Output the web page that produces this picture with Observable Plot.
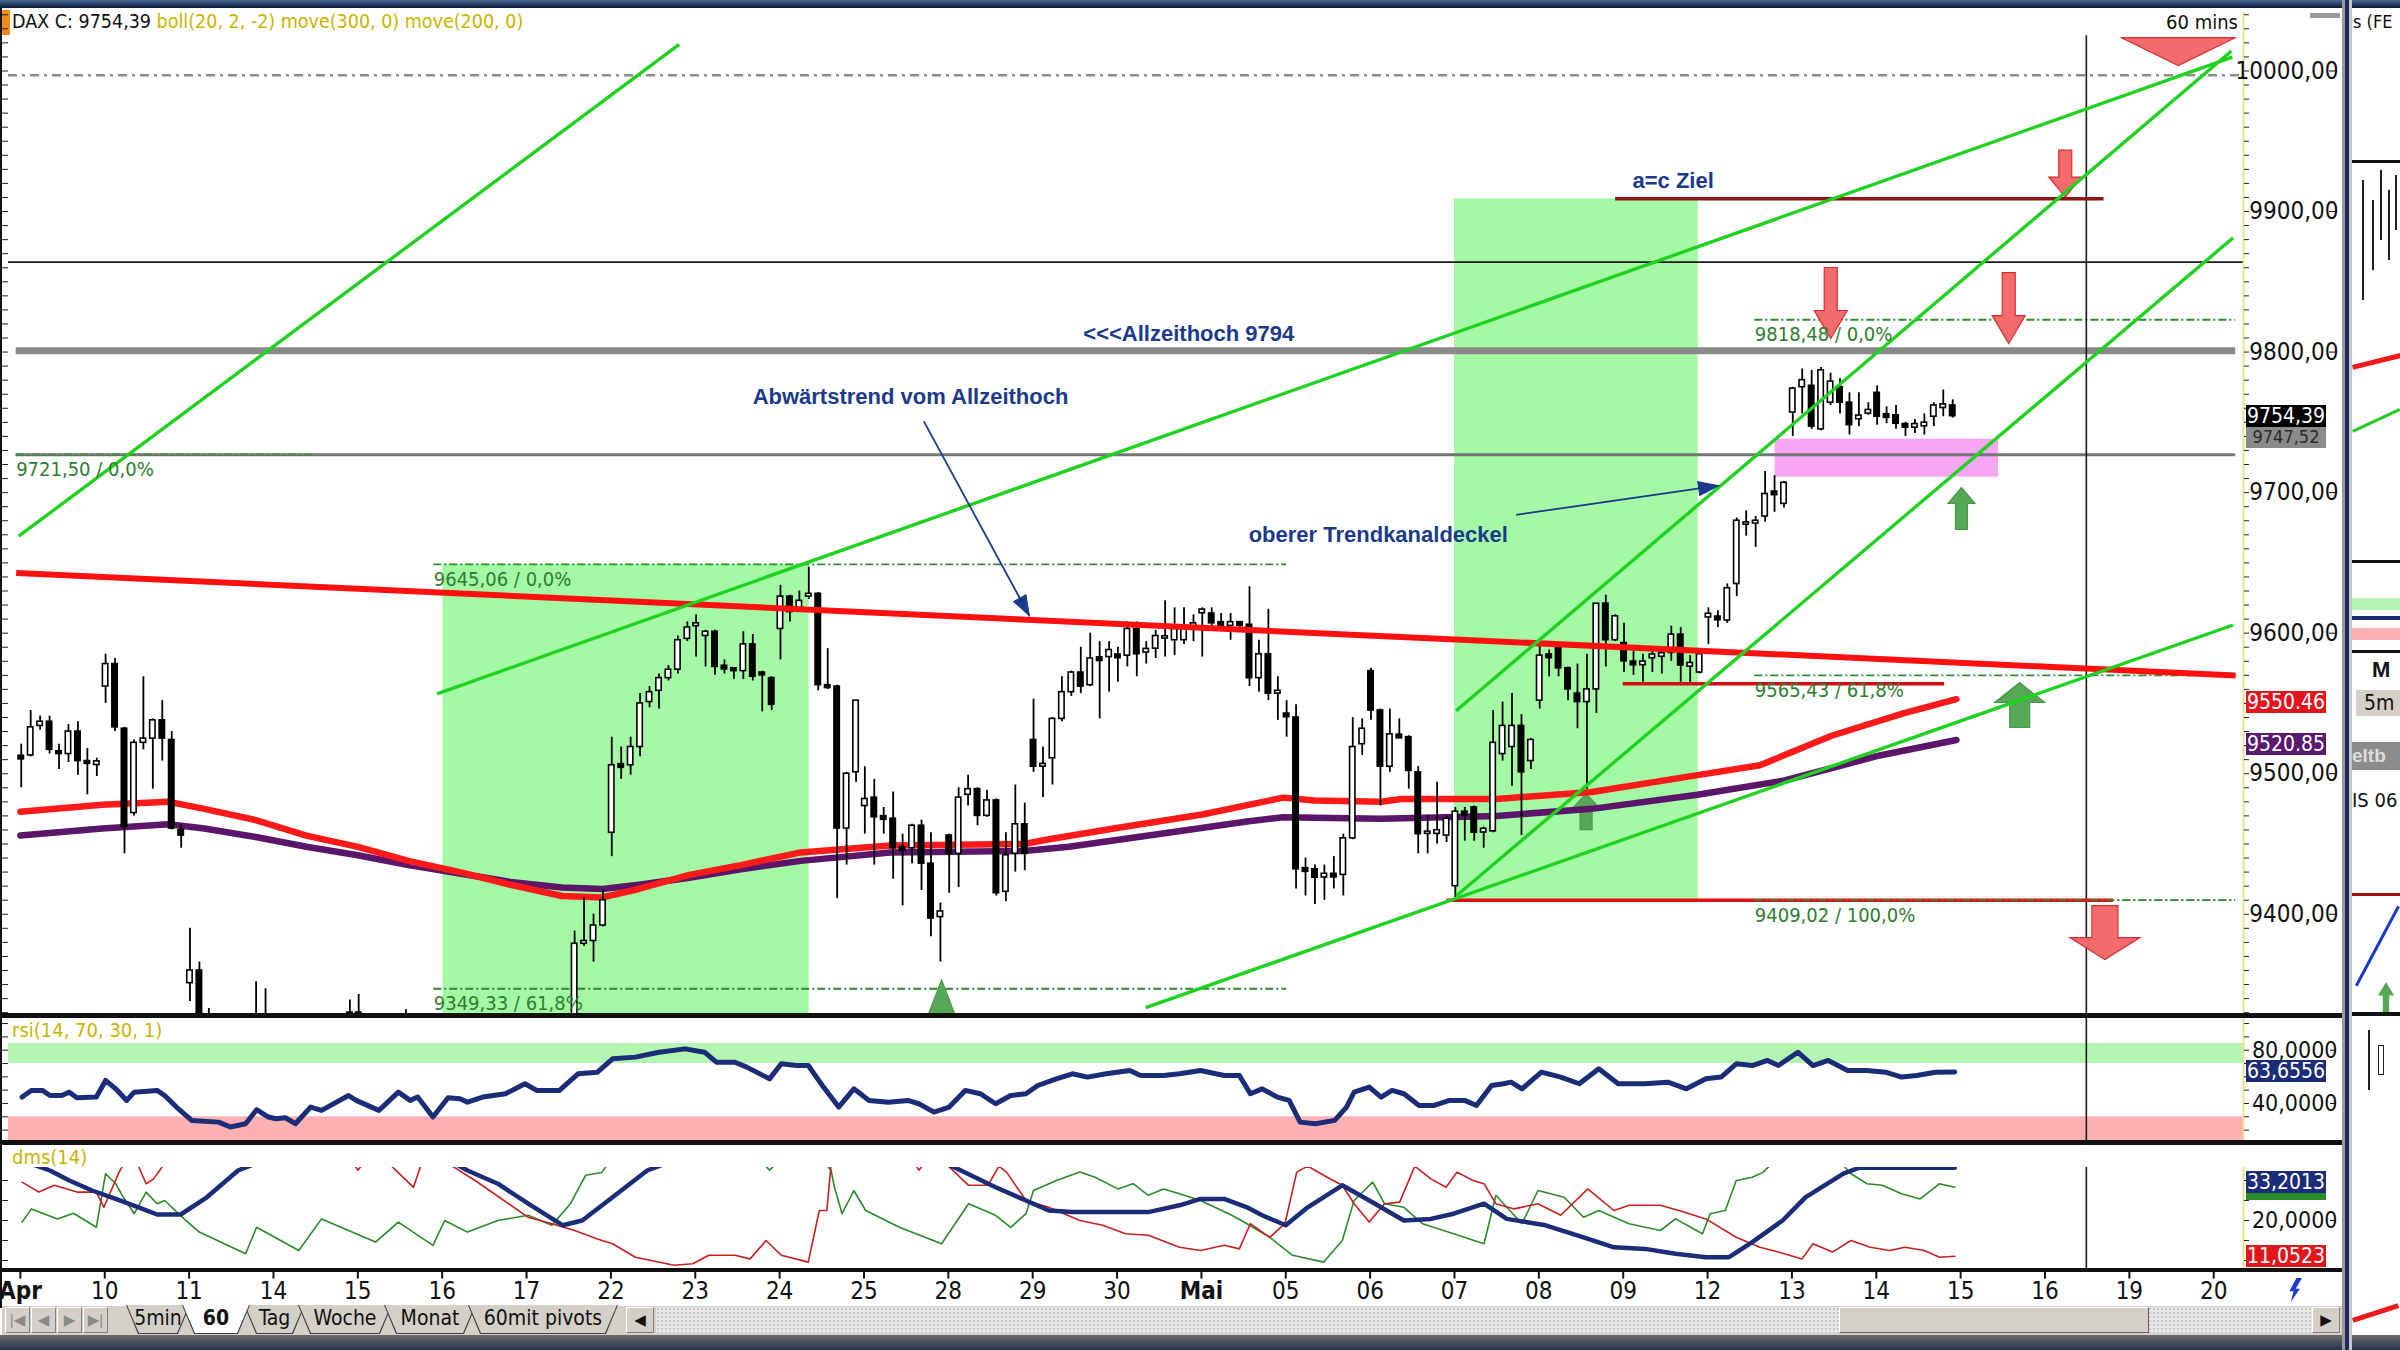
<!DOCTYPE html>
<html><head><meta charset="utf-8">
<script src="https://cdn.jsdelivr.net/npm/d3@7"></script>
<script src="https://cdn.jsdelivr.net/npm/@observablehq/plot@0.6"></script>
<style>
html,body{margin:0;padding:0;background:#fff;}
#root{position:relative;width:2400px;height:1350px;overflow:hidden;background:#fff;}
</style></head><body><div id="root"></div>
<script>
// ---------------- DATA ----------------
const dayLabels = ["Apr","10","11","14","15","16","17","22","23","24","25","28","29","30","Mai","05","06","07","08","09","12","13","14","15","16","19","20"];
const boldLabels = ["Apr","Mai"];

// [day index, bar of day, open, high, low, close]
const candles = [
[0,0,9512,9521,9490,9511],[0,1,9513,9545,9512,9533],[0,2,9534,9541,9531,9537],[0,3,9537,9541,9514,9517],[0,4,9516,9521,9503,9514],[0,5,9514,9535,9508,9530],[0,6,9530,9537,9499,9509],[0,7,9509,9518,9485,9507],[0,8,9507,9511,9498,9508],
[1,0,9562,9585,9550,9578],[1,1,9578,9582,9530,9533],[1,2,9532,9533,9443,9462],[1,3,9472,9524,9470,9522],[1,4,9522,9569,9517,9525],[1,5,9525,9539,9489,9538],[1,6,9538,9552,9509,9525],[1,7,9524,9530,9460,9461],[1,8,9460,9464,9447,9456],
[2,0,9351,9390,9338,9360],[2,1,9360,9366,9290,9300],[2,2,9300,9333,9280,9290],[2,7,9300,9352,9290,9320],[2,8,9320,9347,9295,9300],
[3,8,9300,9339,9290,9330],[4,0,9330,9343,9300,9310],[4,5,9310,9332,9290,9300],
[6,5,9300,9388,9290,9379],[6,6,9379,9412,9377,9381],[6,7,9381,9400,9366,9392],[6,8,9392,9417,9391,9410],
[7,0,9458,9526,9441,9506],[7,1,9506,9519,9496,9505],[7,2,9506,9526,9499,9519],[7,3,9519,9557,9512,9550],[7,4,9551,9562,9547,9558],[7,5,9559,9571,9546,9568],[7,6,9568,9577,9566,9574],[7,7,9574,9598,9571,9595],[7,8,9596,9608,9594,9604],
[8,0,9605,9613,9583,9607],[8,1,9598,9602,9576,9601],[8,2,9601,9602,9570,9576],[8,3,9576,9581,9571,9575],[8,4,9575,9575,9567,9573],[8,5,9573,9601,9567,9592],[8,6,9592,9599,9566,9569],[8,7,9572,9573,9544,9570],[8,8,9568,9569,9545,9549],
[9,0,9603,9634,9581,9626],[9,1,9626,9627,9608,9615],[9,2,9616,9630,9615,9623],[9,3,9626,9647,9624,9628],[9,4,9628,9629,9559,9563],[9,5,9563,9589,9560,9561],[9,6,9562,9563,9411,9461],[9,7,9461,9501,9435,9500],[9,8,9501,9552,9494,9552],
[10,0,9477,9505,9457,9482],[10,1,9483,9496,9435,9469],[10,2,9469,9476,9457,9468],[10,3,9468,9487,9425,9447],[10,4,9447,9457,9406,9446],[10,5,9447,9464,9436,9463],[10,6,9463,9467,9417,9436],[10,7,9436,9458,9384,9397],[10,8,9398,9408,9366,9402],
[11,0,9456,9457,9415,9443],[11,1,9443,9490,9419,9483],[11,2,9485,9499,9477,9489],[11,3,9489,9490,9463,9470],[11,4,9470,9488,9469,9481],[11,5,9481,9482,9413,9415],[11,6,9416,9458,9409,9442],[11,7,9443,9492,9430,9464],[11,8,9464,9479,9431,9443],
[12,0,9524,9553,9501,9505],[12,1,9505,9519,9483,9507],[12,2,9511,9540,9492,9539],[12,3,9539,9569,9537,9558],[12,4,9558,9573,9555,9572],[12,5,9572,9590,9557,9562],[12,6,9563,9600,9562,9582],[12,7,9582,9594,9539,9581],[12,8,9583,9594,9558,9588],
[13,0,9584,9590,9565,9583],[13,1,9584,9608,9576,9603],[13,2,9603,9608,9569,9585],[13,3,9587,9594,9578,9588],[13,4,9589,9602,9582,9598],[13,5,9597,9623,9583,9597],[13,6,9595,9618,9584,9603],[13,7,9595,9618,9592,9605],[13,8,9605,9613,9594,9607],
[14,0,9615,9618,9583,9616],[14,1,9614,9618,9604,9607],[14,2,9607,9614,9602,9606],[14,3,9606,9614,9595,9607],[14,4,9607,9608,9601,9606],[14,5,9606,9633,9562,9568],[14,6,9568,9595,9558,9585],[14,7,9585,9617,9552,9557],[14,8,9557,9569,9538,9559],
[15,0,9542,9552,9526,9541],[15,1,9540,9549,9418,9432],[15,2,9432,9440,9413,9431],[15,3,9432,9435,9407,9426],[15,4,9427,9435,9410,9428],[15,5,9428,9441,9418,9427],[15,6,9428,9457,9413,9454],[15,7,9454,9540,9453,9519],[15,8,9521,9539,9513,9532],
[16,0,9573,9575,9538,9545],[16,1,9545,9546,9477,9505],[16,2,9505,9546,9501,9528],[16,3,9527,9539,9525,9526],[16,4,9526,9527,9489,9502],[16,5,9501,9505,9443,9457],[16,6,9458,9470,9443,9458],[16,7,9458,9494,9450,9459],[16,8,9456,9470,9451,9468],
[17,0,9420,9476,9409,9473],[17,1,9473,9476,9452,9470],[17,2,9476,9477,9452,9458],[17,3,9459,9462,9447,9460],[17,4,9459,9545,9458,9522],[17,5,9514,9551,9509,9534],[17,6,9519,9557,9491,9534],[17,7,9534,9542,9456,9501],[17,8,9509,9525,9503,9524],
[18,0,9552,9592,9546,9584],[18,1,9584,9588,9569,9583],[18,2,9590,9590,9569,9575],[18,3,9575,9576,9552,9560],[18,4,9557,9578,9532,9551],[18,5,9551,9585,9489,9560],[18,6,9560,9621,9543,9621],[18,7,9621,9627,9576,9595],[18,8,9595,9613,9594,9612],
[19,0,9593,9607,9572,9580],[19,1,9579,9588,9570,9578],[19,2,9578,9585,9565,9579],[19,3,9583,9588,9572,9584],[19,4,9584,9588,9571,9585],[19,5,9586,9605,9580,9599],[19,6,9599,9604,9565,9577],[19,7,9577,9584,9565,9578],[19,8,9572,9589,9571,9585],
[20,0,9612,9618,9592,9613],[20,1,9611,9616,9604,9610],[20,2,9609,9635,9607,9632],[20,3,9635,9682,9626,9680],[20,4,9678,9687,9669,9678],[20,5,9678,9683,9661,9680],[20,6,9683,9715,9679,9699],[20,7,9700,9712,9686,9699],[20,8,9692,9708,9689,9707],
[21,0,9757,9775,9740,9774],[21,1,9775,9788,9756,9780],[21,2,9776,9787,9745,9747],[21,3,9745,9789,9744,9787],[21,4,9764,9785,9762,9779],[21,5,9775,9781,9756,9764],[21,6,9764,9771,9741,9748],[21,7,9753,9771,9747,9754],[21,8,9757,9764,9755,9758],
[22,0,9771,9776,9748,9754],[22,1,9755,9761,9749,9754],[22,2,9755,9762,9745,9749],[22,3,9748,9750,9740,9747],[22,4,9747,9752,9742,9748],[22,5,9748,9756,9741,9749],[22,6,9754,9764,9747,9762],[22,7,9761,9773,9754,9762],[22,8,9762,9766,9753,9754.39]
];

// moving averages [time, price]
const redMA = [[0,9473],[0.97,9478],[1.76,9480],[2.18,9475],[2.79,9467],[3.39,9456],[4.0,9448],[4.6,9438],[5.21,9430],[5.81,9421],[6.42,9413],[6.9,9412],[7.33,9418],[7.93,9428],[8.54,9435],[9.25,9444],[10.31,9449],[11.9,9450],[12.16,9453],[12.96,9461],[14.01,9471],[14.97,9483],[15.34,9481],[16.13,9480],[16.37,9482],[17.5,9482],[18.63,9487],[19.88,9499],[20.62,9506],[21.47,9527],[22.32,9543],[22.95,9553]];
const purpleMA = [[0,9456],[0.97,9461],[1.76,9464],[2.18,9461],[2.79,9455],[3.39,9448],[4.0,9442],[4.6,9435],[5.21,9429],[5.81,9423],[6.42,9419],[6.9,9418],[7.33,9421],[7.93,9426],[8.54,9432],[9.25,9438],[10.31,9444],[11.9,9445],[12.43,9448],[13.48,9457],[14.54,9466],[14.97,9469],[16.13,9468],[17.5,9470],[18.63,9475],[19.88,9485],[20.9,9495],[22.04,9513],[22.95,9524]];

const rsi = [[0.02,44.8],[0.13,49.8],[0.26,49.8],[0.35,46],[0.49,46],[0.58,48.5],[0.67,44.3],[0.9,44.8],[1.01,57.3],[1.13,51],[1.26,42.3],[1.35,48.5],[1.62,49.8],[1.71,46],[1.85,37.3],[2.03,27.3],[2.35,26],[2.49,22.3],[2.67,24.8],[2.8,35.3],[2.94,29.8],[3.03,28.5],[3.14,29.3],[3.26,24.8],[3.44,37.3],[3.57,34.8],[3.89,46],[3.98,42.3],[4.25,34.8],[4.48,48.5],[4.62,42.3],[4.71,44.8],[4.89,29.8],[5.07,44.3],[5.21,43.5],[5.3,41],[5.48,44.8],[5.75,47.3],[5.98,54.8],[6.12,49.8],[6.39,49.8],[6.61,62.3],[6.84,63.5],[7.02,73.5],[7.29,74.8],[7.57,78.5],[7.88,81],[8.11,78.5],[8.25,71],[8.47,71],[8.61,67.3],[8.88,58.5],[9.02,69.8],[9.2,68.5],[9.34,68.5],[9.52,52.3],[9.7,37.3],[9.88,51],[10.06,42.3],[10.29,41],[10.52,42.3],[10.65,39.8],[10.83,33.5],[11.01,37.3],[11.2,49.8],[11.38,47.3],[11.56,39.8],[11.74,46],[11.92,47.3],[12.06,53.5],[12.28,58.5],[12.47,62.3],[12.65,59.8],[12.87,62.3],[13.15,64.8],[13.28,61],[13.55,61],[13.74,62.3],[13.99,64.8],[14.27,61],[14.45,61],[14.58,47.3],[14.72,51],[14.9,44.8],[15.04,42.3],[15.17,26],[15.35,24.8],[15.58,27.3],[15.72,37.3],[15.81,48.5],[15.99,52.3],[16.13,44.8],[16.26,49.8],[16.4,47.3],[16.58,38.5],[16.76,38.5],[16.94,42.3],[17.12,42.3],[17.26,38.5],[17.44,53.5],[17.58,54.8],[17.67,56],[17.8,51],[18.03,63.5],[18.26,59.8],[18.48,54.8],[18.71,66],[18.94,54.8],[19.26,54.8],[19.53,56],[19.75,51],[19.98,58.5],[20.16,59.8],[20.34,69.8],[20.53,68.5],[20.71,72.3],[20.84,68.5],[21.07,78.5],[21.25,68.5],[21.43,72.3],[21.66,64.8],[21.89,64.8],[22.11,63.5],[22.3,59.8],[22.48,61],[22.7,63.5],[22.93,63.66]];
const rsiBands = [{lo:70,hi:85,color:"#b2f6b2"},{lo:0,hi:30,color:"#ffb1b1"}];

const adx = [[0.02,35],[0.35,32.5],[0.58,30],[0.85,27.5],[1.13,25.4],[1.4,23.3],[1.62,21.5],[1.9,21.5],[2.21,25.8],[2.58,32.5],[3.0,36],[4.0,39],[5.0,36],[5.3,32.5],[5.66,29.2],[6.02,24.2],[6.43,18.8],[6.66,20],[7.02,25.8],[7.43,32.5],[8.0,37],[9.5,40],[10.8,36],[11.15,32.5],[11.56,28.3],[11.92,25],[12.19,22.5],[12.47,22.1],[13.37,22.1],[13.74,23.8],[13.99,25.4],[14.27,25.4],[14.54,23.3],[14.72,21.3],[15.0,18.8],[15.26,23.3],[15.67,28.8],[15.99,25],[16.4,20],[16.72,20.4],[16.99,21.7],[17.35,24.2],[17.62,20.4],[18.08,18.8],[18.53,15.8],[18.89,13.3],[19.26,12.9],[19.62,11.7],[19.98,10.8],[20.25,10.8],[20.53,14.6],[20.89,20],[21.16,25.8],[21.61,31.7],[21.8,33.2],[22.93,33.2]];
const plusDI = [[0.02,19.6],[0.13,22.9],[0.44,20.4],[0.63,21.8],[0.9,18.3],[1.01,31.7],[1.13,29.2],[1.22,25.8],[1.35,21.7],[1.49,27.1],[1.62,24.2],[1.71,25],[1.94,20.4],[2.12,17.1],[2.67,11.7],[2.8,18.3],[3.3,12.5],[3.57,20.4],[3.89,17.5],[4.21,14.6],[4.48,19.6],[4.89,13.8],[5.03,20],[5.3,17.1],[5.66,20],[6.02,21.3],[6.3,18.8],[6.52,24.2],[6.7,31.3],[6.89,32],[7.1,38],[8.0,40],[8.84,33.5],[8.88,32.6],[8.95,34],[9.4,38],[9.61,32.5],[9.65,28.3],[9.74,21.7],[9.88,27.5],[10.02,22.5],[10.42,18.3],[10.92,14.2],[11.24,24.2],[11.56,21.3],[11.74,18.3],[11.92,21.7],[12.01,27.5],[12.28,30],[12.56,32.1],[12.74,30.8],[13.01,27.9],[13.19,29.2],[13.37,26.3],[13.55,27.9],[13.74,26.7],[13.99,25],[14.36,21.3],[14.54,19.2],[14.81,15.8],[15.08,11.3],[15.45,9.6],[15.67,15],[15.81,25],[16.03,29.6],[16.17,24.2],[16.4,23.3],[16.62,19.2],[16.99,16.7],[17.35,14.2],[17.49,26.3],[17.8,19.2],[17.99,27.5],[18.3,25.8],[18.53,20.8],[18.71,22.5],[19.07,19.2],[19.44,17.5],[19.62,20.4],[19.94,16.7],[20.03,21.7],[20.21,22.5],[20.34,30],[20.53,30.8],[20.66,32.1],[20.8,35],[21.2,38],[21.6,34],[21.7,31.7],[21.89,29.2],[22.07,28.8],[22.3,26.7],[22.52,25.4],[22.75,29.2],[22.93,28.3]];
const minusDI = [[0.02,29.6],[0.22,27.1],[0.4,28.8],[0.67,27.1],[0.9,27.1],[0.99,23.3],[1.17,32.1],[1.25,35],[1.4,33.6],[1.49,29.2],[1.58,30.4],[1.7,34],[2.5,38],[3.9,36],[4.0,32.6],[4.1,35],[4.4,33.6],[4.66,28.3],[4.75,34],[5.0,36],[5.12,33.6],[5.39,30],[6.02,20.8],[6.3,19.2],[6.57,17.5],[6.84,15.4],[7.02,14.2],[7.29,10.8],[7.75,8.8],[7.97,9.2],[8.16,11.3],[8.47,11.3],[8.65,10.4],[8.84,15],[9.02,11.3],[9.34,9.6],[9.47,22.5],[9.56,22.5],[9.61,34],[10.5,38],[10.65,32.6],[10.75,35],[11.0,33.6],[11.24,28.8],[11.47,28.8],[11.6,33.6],[11.69,32.1],[11.92,25],[12.19,23.3],[12.56,20],[12.83,18.8],[13.1,16.7],[13.37,16.3],[13.74,13.3],[13.99,12.5],[14.27,13.8],[14.45,12.9],[14.58,19.2],[14.81,15.8],[14.99,19.2],[15.13,32.1],[15.26,33.6],[15.49,30.8],[15.67,28.8],[15.81,24.2],[15.99,19.6],[16.17,24.2],[16.35,24.6],[16.53,33.6],[16.72,30.4],[16.9,28.3],[17.03,32.1],[17.22,30],[17.35,29.2],[17.49,24.2],[17.71,22.9],[17.99,24.2],[18.26,21.3],[18.58,27.9],[18.89,22.5],[19.07,23.8],[19.44,23.8],[19.66,22.5],[19.98,20.4],[20.34,15.8],[20.62,13.3],[20.84,12.1],[21.12,10.4],[21.25,14.2],[21.48,12.1],[21.7,15],[21.93,13.3],[22.16,12.5],[22.34,13.3],[22.57,12.5],[22.75,10.8],[22.93,11.05]];

// drawing tools on the price panel
const greenZones = [{x1:5.01,x2:9.35,y1:9300,y2:9649},{x1:17.0,x2:19.89,y1:9409,y2:9909}];
const pinkZones = [{x1:20.80,x2:23.45,y1:9711,y2:9738}];
const refLines = [
  {y:9997, kind:"dashdot"},
  {y:9864, kind:"black"},
  {y:9801, kind:"thick", x1:-0.05, x2:26.26},
  {y:9727, kind:"gray", x1:-0.05, x2:26.26}
];
const fibLevels = [
  {y:9727, x1:-0.05, x2:3.5, label:"9721,50 / 0,0%"},
  {y:9649, x1:4.90, x2:15.01, label:"9645,06 / 0,0%"},
  {y:9347, x1:4.90, x2:15.01, label:"9349,33 / 61,8%"},
  {y:9823, x1:20.56, x2:26.26, label:"9818,48 / 0,0%"},
  {y:9570, x1:20.56, x2:26.26, label:"9565,43 / 61,8%"},
  {y:9410, x1:20.56, x2:26.26, label:"9409,02 / 100,0%"}
];
const redLevels = [
  {y:9909, x1:18.91, x2:24.70, color:"#8c1616"},
  {y:9564, x1:19.0, x2:22.81, color:"#d01010"},
  {y:9410, x1:16.91, x2:24.81, color:"#e01010"}
];
const cursorX = [24.49];
const downTrend = [{x1:-0.05, y1:9642.8, x2:26.26, y2:9569.9}];
const greenTrends = [
  {x1:-0.02, y1:9669, x2:7.81, y2:10019},
  {x1:4.94, y1:9556.8, x2:26.22, y2:10009.8},
  {x1:17.02, y1:9544.8, x2:26.21, y2:10014.2},
  {x1:17.02, y1:9413, x2:26.23, y2:9881.3},
  {x1:13.34, y1:9333.6, x2:26.23, y2:9605.8}
];
const signals = [
  {x:25.58, y:10013.8, kind:"bigTriangle"},
  {x:24.24, y:9927, kind:"downSmall"},
  {x:21.46, y:9834.9, kind:"down"},
  {x:23.57, y:9831.3, kind:"down"},
  {x:24.71, y:9387, kind:"downWide"},
  {x:23.01, y:9688.7, kind:"upSmall"},
  {x:23.70, y:9548.9, kind:"upWide"},
  {x:18.56, y:9473, kind:"upMid"},
  {x:10.92, y:9340.8, kind:"triUp"}
];
const pointers = [
  {x1:10.71, y1:9750.7, x2:11.96, y2:9612.4},
  {x1:17.73, y1:9684.2, x2:20.13, y2:9704.9}
];
const notes = [
  {x:12.6, y:9812.7, text:"<<<Allzeithoch 9794"},
  {x:8.68, y:9768.1, text:"Abwärtstrend vom Allzeithoch"},
  {x:14.56, y:9670.1, text:"oberer Trendkanaldeckel"},
  {x:19.11, y:9921.6, text:"a=c Ziel"}
];
const priceTicks = [9400,9500,9600,9700,9800,9900,10000];
const rsiTicks = [40,80];
const dmsTicks = [20];
const lastClose = 9754.39, ma200Last = 9550.46, ma300Last = 9520.85;
const rsiLast = 63.6556, adxLast = 33.2013, pdiLast = 28.3194, mdiLast = 11.0523;

// ---------------- LAYOUT / STYLE ----------------
const FN = '"Liberation Sans Narrow","Arial Narrow","DejaVu Sans Condensed",sans-serif';
const FB = '"Liberation Sans",Arial,"DejaVu Sans",sans-serif';
const X_DOMAIN = [-0.141, 26.353];
const W = 2340, ML = 8, MR = 97;
const SLOT = 0.112, SLOT0 = 0.01, HW = 0.032;
const OLIVE = "#c9b400", NAVY = "#1b2c78", NOTE = "#1b3a8c";
const root = document.getElementById("root");
function box(style, text, parent = root) {
  const e = document.createElement("div");
  e.style.cssText = "position:absolute;box-sizing:border-box;" + style;
  if (text != null) e.textContent = text;
  parent.appendChild(e);
  return e;
}
function place(chart, top) {
  chart.style.position = "absolute"; chart.style.left = "0px"; chart.style.top = top + "px";
  root.appendChild(chart); return chart;
}
const commaFmt = (n) => (d) => d.toFixed(n).replace(".", ",");
const blank = () => "";
function minorTicks(lo, hi, step) { const t = []; for (let v = Math.ceil(lo/step)*step; v <= hi; v += step) t.push(+v.toFixed(4)); return t; }
function tickMarks(ticks, anchor, size) {
  return Plot.axisY(ticks, {anchor, tickSize: size, tickFormat: blank, stroke: "#222"});
}

const ARROW_SHAPES = {
  bigTriangle:{len:28, shaft:0, head:115, tip:28, dir:1},
  downSmall:{len:47, shaft:13, head:33, tip:20, dir:1},
  down:{len:71, shaft:13, head:33, tip:28, dir:1},
  downWide:{len:54, shaft:26, head:70, tip:22, dir:1},
  upSmall:{len:42, shaft:12, head:27, tip:16, dir:-1},
  upWide:{len:45, shaft:20, head:50, tip:20, dir:-1},
  upMid:{len:36, shaft:12, head:30, tip:16, dir:-1},
  triUp:{len:35, shaft:0, head:27, tip:35, dir:-1}
};
function arrowSymbol({len, shaft, head, tip, dir}) {
  return {draw(ctx) {
    const t = len/2, s = shaft/2, h = head/2, b = t - tip;
    ctx.moveTo(-s, -t*dir); ctx.lineTo(s, -t*dir); ctx.lineTo(s, b*dir); ctx.lineTo(h, b*dir);
    ctx.lineTo(0, t*dir); ctx.lineTo(-h, b*dir); ctx.lineTo(-s, b*dir); ctx.closePath();
  }};
}
// arrow head with its tip at the anchor point, pointing up before rotation
const headSymbol = {draw(ctx) { ctx.moveTo(0, 0); ctx.lineTo(7, 20); ctx.lineTo(-7, 20); ctx.closePath(); }};

// ---------------- WINDOW CHROME ----------------
box("left:0;top:0;width:2400px;height:8px;background:linear-gradient(#4a6a9a,#0a1836);");
box("left:0;top:8px;width:2px;height:1300px;background:#111;");
box("left:2px;top:10px;width:8px;height:25px;background:#f08a1a;");

// ---------------- MAIN PRICE PANEL ----------------
const cd = candles.map(([d,b,o,h,l,c]) => ({x: d + SLOT0 + b*SLOT, o, h, l, c}));
const flat = d => Math.abs(d.o - d.c) < 1.6 ? 0.8 : 0;
const MAIN_TOP = 12, MAIN_H = 1001;
const mainBase = {
  width: W, height: MAIN_H, marginLeft: ML, marginRight: MR, marginTop: 0, marginBottom: 0,
  x: {domain: X_DOMAIN, axis: null},
  y: {domain: [9329.4, 10041.6], axis: null},
  style: {background: "transparent", overflow: "visible"}
};
const main = Plot.plot({
  ...mainBase,
  marks: [
    Plot.rect(greenZones, {x1:"x1", x2:"x2", y1:"y1", y2:"y2", fill:"#a4f9a4", clip:true}),
    Plot.rect(pinkZones, {x1:"x1", x2:"x2", y1:"y1", y2:"y2", fill:"#f6a6f2", clip:true}),
    Plot.ruleY(refLines.filter(d => d.kind === "dashdot"), {y:"y", stroke:"#8c8c8c", strokeWidth:2.5, strokeDasharray:"9,5,3,5"}),
    Plot.ruleY(refLines.filter(d => d.kind === "black"), {y:"y", stroke:"#1a1a1a", strokeWidth:1.6}),
    Plot.ruleY(refLines.filter(d => d.kind === "thick"), {y:"y", x1:"x1", x2:"x2", stroke:"#8a8a8a", strokeWidth:7}),
    Plot.ruleY(refLines.filter(d => d.kind === "gray"), {y:"y", x1:"x1", x2:"x2", stroke:"#767676", strokeWidth:3}),
    Plot.ruleY(fibLevels, {y:"y", x1:"x1", x2:"x2", stroke:"#2e8b2e", strokeWidth:1.8, strokeDasharray:"8,3,2,3"}),
    Plot.ruleX(cursorX, {x: d => d, y1: 10025, y2: 9300, stroke:"#1a1a1a", strokeWidth:1.6, clip:true}),
    ...Object.keys(ARROW_SHAPES).map(k => Plot.dot(signals.filter(s => s.kind === k), {
      x:"x", y:"y", r: 10, symbol: arrowSymbol(ARROW_SHAPES[k]),
      fill: ARROW_SHAPES[k].dir > 0 ? "#f36b6b" : "#56a756",
      stroke: ARROW_SHAPES[k].dir > 0 ? "#d23030" : "#4a994a", strokeWidth: 1.2
    })),
    Plot.line(purpleMA, {x: d => d[0], y: d => d[1], stroke:"#5b1569", strokeWidth:6.5, clip:true}),
    Plot.line(redMA, {x: d => d[0], y: d => d[1], stroke:"#ff1a1a", strokeWidth:6.5, clip:true}),
    Plot.ruleX(cd, {x:"x", y1:"l", y2:"h", stroke:"#000", strokeWidth:1.8, clip:true}),
    Plot.rect(cd, {x1: d => d.x - HW, x2: d => d.x + HW,
      y1: d => Math.min(d.o, d.c) - flat(d), y2: d => Math.max(d.o, d.c) + flat(d),
      fill: d => d.c >= d.o ? "#ffffff" : "#000000", stroke:"#000", strokeWidth:1.6, clip:true}),
    Plot.ruleY(redLevels, {y:"y", x1:"x1", x2:"x2", stroke: d => d.color, strokeWidth:3.5}),
    Plot.ruleY(fibLevels.filter(d => d.y === 9410), {y:"y", x1:"x1", x2:"x2", stroke:"#2e8b2e", strokeWidth:1.6, strokeDasharray:"8,3,2,3"}),
    Plot.link(downTrend, {x1:"x1", y1:"y1", x2:"x2", y2:"y2", stroke:"#ff1010", strokeWidth:6, clip:true}),
    Plot.link(greenTrends, {x1:"x1", y1:"y1", x2:"x2", y2:"y2", stroke:"#1fd21f", strokeWidth:3.4, clip:true}),
    Plot.link(pointers, {x1:"x1", y1:"y1", x2:"x2", y2:"y2", stroke:NOTE, strokeWidth:1.8}),
    Plot.text(fibLevels, {x:"x1", y:"y", text:"label", dy:15, textAnchor:"start", fill:"#2f7d2f", fontSize:20, fontFamily:FN}),
    Plot.text(notes, {x:"x", y:"y", text:"text", textAnchor:"start", fill:NOTE, fontWeight:"bold", fontSize:22, fontFamily:FB}),
    Plot.ruleX([X_DOMAIN[1]], {stroke:"#efe08a", strokeWidth:2}),
    tickMarks(minorTicks(9330, 10040, 10), "right", 5),
    tickMarks(minorTicks(9330, 10040, 10), "left", 6),
    Plot.axisY(priceTicks, {anchor:"right", tickSize:8, tickPadding:2, tickFormat: commaFmt(2), textAnchor:"end", dx:85, fontSize:24, fontFamily:FN, fill:"#111"})
  ]
});
place(main, MAIN_TOP);

// filled arrow heads on the annotation pointers, rotated with the main chart's own scales
const sx = main.scale("x"), sy = main.scale("y");
const headAngle = d => Math.atan2(sx.apply(d.x2) - sx.apply(d.x1), -(sy.apply(d.y2) - sy.apply(d.y1))) * 180 / Math.PI;
const heads = Plot.plot({
  ...mainBase,
  marks: [Plot.dot(pointers, {x:"x2", y:"y2", r: 8, symbol: headSymbol, rotate: headAngle, fill: NOTE, stroke: NOTE, strokeWidth: 1})]
});
place(heads, MAIN_TOP);

// header
const hdr = box(`left:12px;top:9px;height:26px;font:19.5px/26px ${FN};color:#111;white-space:nowrap;`);
hdr.innerHTML = `DAX C: 9754,39 <span style="color:${OLIVE}">boll(20, 2, -2) move(300, 0) move(200, 0)</span>`;
box(`left:2120px;top:9px;width:118px;height:26px;font:20px/26px ${FN};color:#111;text-align:right;`, "60 mins");
box("left:2310px;top:13px;width:30px;height:5px;background:#9a9a9a;");

// ---------------- PANEL SEPARATORS ----------------
box("left:0;top:1013px;width:2342px;height:5px;background:#111;");
box("left:0;top:1140px;width:2342px;height:5px;background:#111;");
box("left:0;top:1268px;width:2342px;height:4px;background:#111;");

// ---------------- RSI PANEL ----------------
const RSI_TOP = 1018;
const rsiChart = Plot.plot({
  width: W, height: 122, marginLeft: ML, marginRight: MR, marginTop: 0, marginBottom: 0,
  x: {domain: X_DOMAIN, axis: null}, y: {domain: [12.2, 103.8], axis: null},
  style: {background: "transparent", overflow: "visible"},
  marks: [
    Plot.rect(rsiBands, {y1:"lo", y2:"hi", fill:"color", clip:true}),
    Plot.ruleX(cursorX, {x: d => d, stroke:"#1a1a1a", strokeWidth:1.6}),
    Plot.line(rsi, {x: d => d[0], y: d => d[1], stroke: NAVY, strokeWidth:5}),
    Plot.ruleX([X_DOMAIN[1]], {stroke:"#efe08a", strokeWidth:2}),
    tickMarks(minorTicks(20, 100, 10), "right", 5),
    tickMarks(minorTicks(20, 100, 10), "left", 6),
    Plot.axisY(rsiTicks, {anchor:"right", tickSize:6, tickPadding:2, tickFormat: commaFmt(4), textAnchor:"end", dx:86, fontSize:23, fontFamily:FN, fill:"#111"})
  ]
});
place(rsiChart, RSI_TOP);
box(`left:12px;top:1018px;height:24px;font:20px/24px ${FN};color:${OLIVE};`, "rsi(14, 70, 30, 1)");

// ---------------- DMS PANEL ----------------
const DMS_TOP = 1145;
const dmsChart = Plot.plot({
  width: W, height: 123, marginLeft: ML, marginRight: MR, marginTop: 22, marginBottom: 0,
  x: {domain: X_DOMAIN, axis: null}, y: {domain: [8, 33.25], axis: null},
  style: {background: "transparent", overflow: "visible"},
  marks: [
    Plot.ruleX(cursorX, {x: d => d, stroke:"#1a1a1a", strokeWidth:1.6}),
    Plot.line(plusDI, {x: d => d[0], y: d => d[1], stroke:"#2a8a2a", strokeWidth:1.6, clip:true}),
    Plot.line(minusDI, {x: d => d[0], y: d => d[1], stroke:"#c62020", strokeWidth:1.6, clip:true}),
    Plot.line(adx, {x: d => d[0], y: d => d[1], stroke: NAVY, strokeWidth:4.5, clip:true}),
    Plot.ruleX([X_DOMAIN[1]], {stroke:"#efe08a", strokeWidth:2}),
    tickMarks(minorTicks(10, 30, 5), "right", 5),
    tickMarks(minorTicks(10, 30, 5), "left", 6),
    Plot.axisY(dmsTicks, {anchor:"right", tickSize:6, tickPadding:2, tickFormat: commaFmt(4), textAnchor:"end", dx:86, fontSize:23, fontFamily:FN, fill:"#111"})
  ]
});
place(dmsChart, DMS_TOP);
box(`left:12px;top:1145px;height:24px;font:20px/24px ${FN};color:${OLIVE};`, "dms(14)");

// ---------------- VALUE BOXES (positioned by the charts' own y scales) ----------------
function valueBox(chart, top, v, text, bg, fg, offset = 0, size = 21) {
  const y = chart.scale("y").apply(v) + top + offset;
  box(`left:2246px;top:${y - 11}px;width:80px;height:22px;background:${bg};color:${fg};font:${size}px/22px ${FN};text-align:center;white-space:nowrap;`, text);
}
valueBox(main, MAIN_TOP, lastClose, "9747,52", "#8a8a8a", "#2a2a2a", 21, 18);
valueBox(main, MAIN_TOP, lastClose, "9754,39", "#000", "#fff");
valueBox(main, MAIN_TOP, ma200Last, "9550.46", "#e3141c", "#fff");
valueBox(main, MAIN_TOP, ma300Last, "9520.85", "#5a1870", "#fff");
valueBox(rsiChart, RSI_TOP, rsiLast, commaFmt(4)(rsiLast), NAVY, "#fff");
valueBox(dmsChart, DMS_TOP, Math.min(adxLast, 29.5), commaFmt(4)(adxLast), NAVY, "#fff");
box(`left:2246px;top:${dmsChart.scale("y").apply(29.5) + DMS_TOP + 11}px;width:80px;height:7px;background:#2a8a2a;`);
valueBox(dmsChart, DMS_TOP, mdiLast, commaFmt(4)(mdiLast), "#e3141c", "#fff");

// ---------------- TIME AXIS ----------------
const axisData = dayLabels.map((t, i) => ({i, t}));
const xAxis = Plot.plot({
  width: W, height: 33, marginLeft: ML, marginRight: MR, marginTop: 0, marginBottom: 0,
  x: {domain: X_DOMAIN, axis: null}, y: {domain: [0, 1], axis: null},
  style: {background: "transparent", overflow: "visible"},
  marks: [
    Plot.ruleX(axisData, {x:"i", y1:1, y2:0.8, stroke:"#111", strokeWidth:2}),
    Plot.text(axisData.filter(d => !boldLabels.includes(d.t)), {x:"i", y:0.42, text:"t", fontSize:24, fontFamily:FN, fill:"#111"}),
    Plot.text(axisData.filter(d => boldLabels.includes(d.t)), {x:"i", y:0.42, text:"t", fontSize:24, fontWeight:"bold", fontFamily:FN, fill:"#111"})
  ]
});
place(xAxis, 1272);
// small chart-tool icon in the axis corner
box("left:2288px;top:1278px;width:14px;height:24px;background:#1a3ad0;clip-path:polygon(60% 0,100% 0,55% 45%,85% 45%,20% 100%,40% 55%,10% 55%);");

// ---------------- TAB BAR ----------------
box("left:2px;top:1305px;width:2340px;height:30px;background:#d4d0c8;border-top:1px solid #fff;");
["|◀","◀","▶","▶|"].forEach((g, i) => box(`left:${5 + i*26}px;top:1307px;width:25px;height:26px;border:1px solid;border-color:#fff #808080 #808080 #fff;color:#8a8a8a;font:15px/24px ${FB};text-align:center;`, g));
const tabs = [["5min",126,190,false],["60",182,250,true],["Tag",244,305,false],["Woche",298,392,false],["Monat",384,476,false],["60mit pivots",468,618,false]];
tabs.filter(t => !t[3]).concat(tabs.filter(t => t[3])).forEach(([label, a, b, active]) => {
  const o = box(`left:${a}px;top:1305px;width:${b - a}px;height:29px;background:#404040;clip-path:polygon(0 0,100% 0,calc(100% - 12px) 100%,12px 100%);`);
  box(`left:1px;top:0;width:${b - a - 2}px;height:28px;background:${active ? "#fff" : "#d4d0c8"};clip-path:polygon(0 0,100% 0,calc(100% - 12px) 100%,12px 100%);font:${active ? "bold " : ""}21px/27px ${FN};color:#111;text-align:center;`, label, o);
});
box(`left:626px;top:1307px;width:28px;height:26px;border:1px solid;border-color:#fff #808080 #808080 #fff;background:#d4d0c8;font:15px/24px ${FB};text-align:center;color:#111;`, "◀");
box("left:656px;top:1307px;width:1656px;height:26px;background-color:#e6e6e6;background-image:radial-gradient(#c8c8c8 1px,transparent 1.2px);background-size:4px 4px;");
box("left:1839px;top:1307px;width:310px;height:26px;background:#d4d0c8;border:1px solid;border-color:#fff #606060 #606060 #fff;");
box(`left:2312px;top:1307px;width:28px;height:26px;border:1px solid;border-color:#fff #808080 #808080 #fff;background:#d4d0c8;font:15px/24px ${FB};text-align:center;color:#111;`, "▶");
box("left:0;top:1335px;width:2400px;height:15px;background:linear-gradient(#6a6a6a,#26334d);");

// ---------------- NEIGHBOUR WINDOW (partial, right edge) ----------------
box("left:2342px;top:0;width:10px;height:1350px;background:linear-gradient(to right,#9a9a9a 0 3px,#1d2d62 3px 7px,#c8c8c8 7px);");
box(`left:2353px;top:9px;width:46px;height:26px;font:18px/26px ${FN};color:#111;white-space:nowrap;`, "s (FE");
box("left:2352px;top:160px;width:48px;height:3px;background:#111;");
[[2362,180,300],[2372,200,270],[2380,170,240],[2388,190,260],[2395,175,230]].forEach(([x,a,b]) => box(`left:${x}px;top:${a}px;width:2px;height:${b-a}px;background:#222;`));
box("left:2352px;top:365px;width:52px;height:5px;background:#ee1a1a;transform:rotate(-14deg);transform-origin:0 0;");
box("left:2352px;top:430px;width:52px;height:3px;background:#22cc22;transform:rotate(-25deg);transform-origin:0 0;");
box("left:2352px;top:560px;width:48px;height:3px;background:#111;");
box("left:2352px;top:598px;width:48px;height:12px;background:#b2f6b2;");
box("left:2352px;top:616px;width:48px;height:4px;background:#1b2c78;");
box("left:2352px;top:628px;width:48px;height:12px;background:#ffb1b1;");
box("left:2352px;top:650px;width:48px;height:3px;background:#111;");
box(`left:2372px;top:656px;font:bold 22px/28px ${FB};color:#111;`, "M");
box(`left:2356px;top:690px;width:44px;height:26px;background:#d4d0c8;font:21px/26px ${FN};color:#111;padding-left:8px;`, "5m");
box(`left:2352px;top:742px;width:48px;height:28px;background:#8c8c8c;font:bold 19px/28px ${FB};color:#ddd;`, "eltb");
box(`left:2352px;top:788px;font:20px/24px ${FN};color:#111;white-space:nowrap;`, "IS 06");
box("left:2352px;top:893px;width:48px;height:3px;background:#a01010;");
box("left:2355px;top:985px;width:90px;height:3px;background:#1a3ad0;transform:rotate(-62deg);transform-origin:0 0;");
box("left:2378px;top:982px;width:16px;height:30px;background:#56a756;clip-path:polygon(50% 0,100% 45%,70% 45%,70% 100%,30% 100%,30% 45%,0 45%);");
box("left:2352px;top:1012px;width:48px;height:4px;background:#111;");
box("left:2368px;top:1030px;width:2px;height:60px;background:#222;");
box("left:2378px;top:1045px;width:6px;height:30px;border:1.5px solid #222;background:#fff;");
box("left:2352px;top:1318px;width:48px;height:5px;background:#ee1a1a;transform:rotate(-18deg);transform-origin:0 0;");
</script></body></html>
